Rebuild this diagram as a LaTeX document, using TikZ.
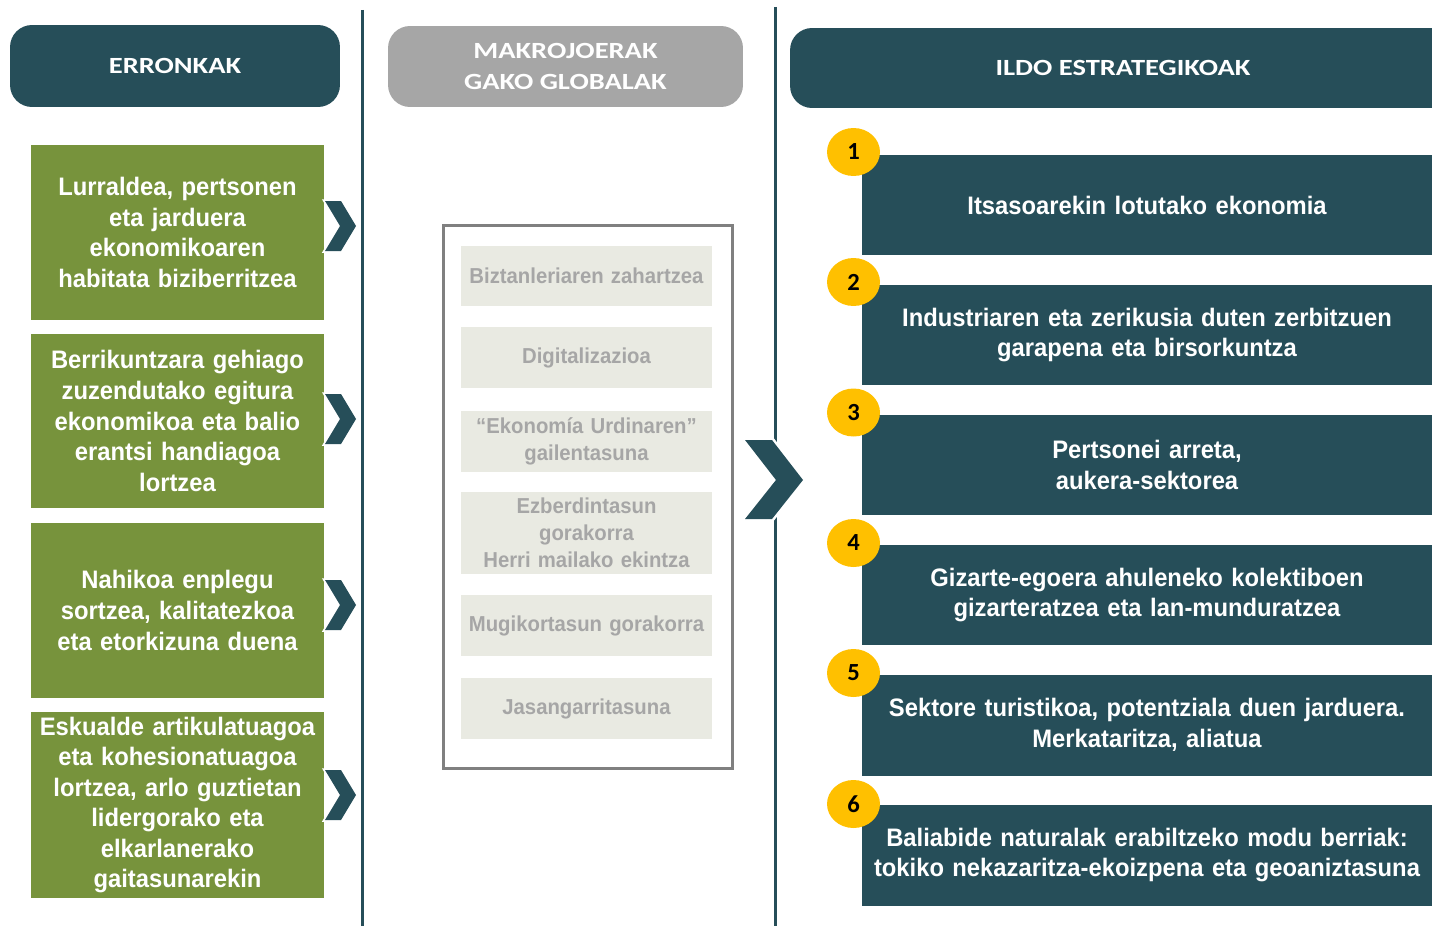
\documentclass[tikz,border=0pt]{standalone}
\usepackage{fontspec}
\setmainfont{Liberation Sans}[FakeStretch=0.94]
\newfontfamily\hdrfont{Carlito}[FakeStretch=1.23]
\newfontfamily\numfont{Carlito}
\usetikzlibrary{shapes.geometric}
\definecolor{teal1}{HTML}{264E59}
\definecolor{green1}{HTML}{77933C}
\definecolor{grayhdr}{HTML}{A6A6A6}
\definecolor{itemfill}{HTML}{E9EAE2}
\definecolor{itemtext}{HTML}{A6A6A6}
\definecolor{framegray}{HTML}{808080}
\definecolor{yellow1}{HTML}{FFC000}
\begin{document}
\begin{tikzpicture}[x=0.02cm,y=-0.02cm,
  hdr/.style={rounded corners=0.44cm, inner sep=0pt, align=center, text=white,
    font=\hdrfont\bfseries\fontsize{13.2}{17.6}\selectfont},
  greenbox/.style={fill=green1, inner sep=0pt, text width=5.86cm, align=center, text=white,
    font=\bfseries\fontsize{14.4}{17.4}\selectfont},
  tealbox/.style={fill=teal1, inner sep=0pt, text width=11.4cm, minimum height=2.02cm, align=center, text=white,
    font=\bfseries\fontsize{14.4}{17.6}\selectfont},
  itembox/.style={fill=itemfill, inner sep=0pt, text width=5.02cm, minimum height=1.22cm, align=center, text=itemtext,
    font=\bfseries\fontsize{12.3}{15.3}\selectfont},
  framebox/.style={draw=framegray, line width=0.06cm, inner sep=0pt, minimum width=5.8cm, minimum height=10.88cm},
  numdot/.style={ellipse, fill=yellow1, inner sep=0pt, minimum width=1.06cm, minimum height=0.96cm, text=black,
    font=\numfont\bfseries\fontsize{14}{14}\selectfont},
  vline/.style={draw=teal1, line width=0.06cm},
  chevhalo/.style={draw=white, fill=white, line width=0.07cm, line join=miter},
  chevfill/.style={fill=teal1}
]
\useasboundingbox (0,0) rectangle (1432,926);

% column separators
\coordinate (l1t) at (362,10); \coordinate (l1b) at (362,926);
\coordinate (l2t) at (775.5,7); \coordinate (l2b) at (775.5,926);
\draw[vline] (l1t) -- (l1b);
\draw[vline] (l2t) -- (l2b);

% headers
\node[hdr, fill=teal1, minimum width=6.6cm, minimum height=1.64cm] (erronkak) at (175,66) {ERRONKAK};
\node[hdr, fill=grayhdr, minimum width=7.1cm, minimum height=1.62cm] (makro) at (565.5,66.5) {MAKROJOERAK\\GAKO GLOBALAK};
\begin{scope}
\clip (0,0) rectangle (1432,926);
\node[hdr, fill=teal1, minimum width=13.32cm, minimum height=1.6cm] (ildo) at (1123,68) {ILDO ESTRATEGIKOAK};
\end{scope}

% challenges
\node[greenbox, minimum height=3.5cm] (g1) at (177.5,232.5) {Lurraldea, pertsonen\\eta jarduera\\ekonomikoaren\\habitata biziberritzea};
\node[greenbox, minimum height=3.48cm] (g2) at (177.5,421) {Berrikuntzara gehiago\\zuzendutako egitura\\ekonomikoa eta balio\\erantsi handiagoa\\lortzea};
\node[greenbox, minimum height=3.5cm] (g3) at (177.5,610.5) {Nahikoa enplegu\\sortzea, kalitatezkoa\\eta etorkizuna duena};
\node[greenbox, minimum height=3.72cm] (g4) at (177.5,805) {Eskualde artikulatuagoa\\eta kohesionatuagoa\\lortzea, arlo guztietan\\lidergorako eta\\elkarlanerako\\gaitasunarekin};

% small chevrons
\foreach \cy in {226,419,605,795}{
  \filldraw[chevhalo] (325,\cy-25) -- ++(16,0) -- ++(15,25) -- ++(-15,25) -- ++(-16,0) -- ++(15,-25) -- cycle;
  \fill[chevfill] (325,\cy-25) -- ++(16,0) -- ++(15,25) -- ++(-15,25) -- ++(-16,0) -- ++(15,-25) -- cycle;
}

% macro trends
\node[framebox] (frame) at (588,497) {};
\node[itembox] (i1) at (586.5,276) {Biztanleriaren zahartzea};
\node[itembox] (i2) at (586.5,357.5) {Digitalizazioa};
\node[itembox] (i3) at (586.5,441) {“Ekonomía Urdinaren”\\gailentasuna};
\node[itembox, minimum height=1.64cm] (i4) at (586.5,533) {Ezberdintasun\\gorakorra\\Herri mailako ekintza};
\node[itembox] (i5) at (586.5,625.5) {Mugikortasun gorakorra};
\node[itembox] (i6) at (586.5,708.5) {Jasangarritasuna};

% big chevron
\filldraw[chevhalo, line width=0.1cm] (745,440) -- (772,440) -- (803,480) -- (772,519) -- (745,519) -- (776,480) -- cycle;
\fill[chevfill] (745,440) -- (772,440) -- (803,480) -- (772,519) -- (745,519) -- (776,480) -- cycle;

% strategic lines
\node[tealbox] (s1) at (1147,205) {Itsasoarekin lotutako ekonomia};
\node[tealbox] (s2) at (1147,335) {Industriaren eta zerikusia duten zerbitzuen\\garapena eta birsorkuntza};
\node[tealbox] (s3) at (1147,465) {Pertsonei arreta,\\aukera-sektorea};
\node[tealbox] (s4) at (1147,595) {Gizarte-egoera ahuleneko kolektiboen\\gizarteratzea eta lan-munduratzea};
\node[tealbox] (s5) at (1147,725) {Sektore turistikoa, potentziala duen jarduera.\\Merkataritza, aliatua};
\node[tealbox] (s6) at (1147,855) {Baliabide naturalak erabiltzeko modu berriak:\\tokiko nekazaritza-ekoizpena eta geoaniztasuna};

\node[numdot] (n1) at (853.5,152) {1};
\node[numdot] (n2) at (853.5,282) {2};
\node[numdot] (n3) at (853.5,412.5) {3};
\node[numdot] (n4) at (853.5,543) {4};
\node[numdot] (n5) at (853.5,673) {5};
\node[numdot] (n6) at (853.5,804) {6};
\end{tikzpicture}
\end{document}
